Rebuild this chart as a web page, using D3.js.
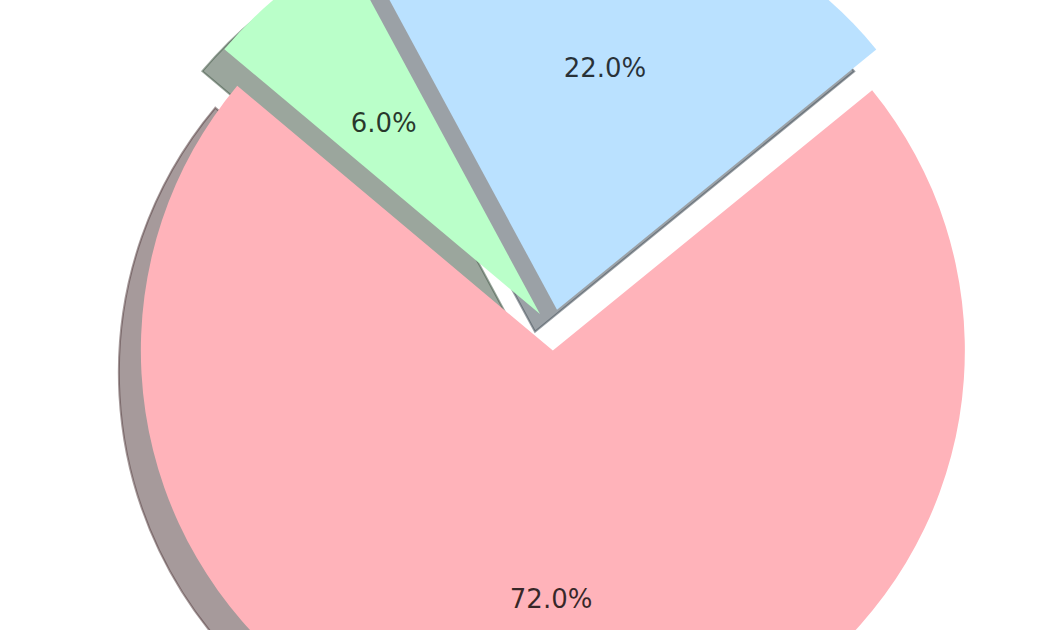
<!DOCTYPE html>
<html>
<head>
<meta charset="utf-8">
<script src="https://cdn.jsdelivr.net/npm/d3@7"></script>
<style>
html,body{margin:0;padding:0;background:#fff;}
svg{display:block;}
</style>
</head>
<body>
<svg id="chart" width="1050" height="630"></svg>
<script>
const labels = ["Blue", "Green", "Pink"];
const values = [22, 6, 72];
const explode = [0.05, 0.05, 0.05];
const colors = ["#bae1ff", "#baffc9", "#ffb3ba"];

const W = 1050, H = 630;
const cx = 553, cy = 330, R = 412;
const shadowDx = -22, shadowDy = 22;
const startDeg = 90 - 39.2; // matplotlib start angle converted to d3 convention

const svg = d3.select("#chart");
const g = svg.append("g").attr("transform", `translate(${cx},${cy})`);

const data = labels.map((l, i) => ({label: l, value: values[i], explode: explode[i], color: colors[i]}));

const pie = d3.pie()
  .sort(null)
  .value(d => d.value)
  .startAngle(startDeg * Math.PI / 180)
  .endAngle((startDeg - 360) * Math.PI / 180);

const arcs = pie(data);
const arc = d3.arc().innerRadius(0).outerRadius(R);
const labelArc = d3.arc().innerRadius(R * 0.6).outerRadius(R * 0.6);

function offset(a) {
  const mid = (a.startAngle + a.endAngle) / 2;
  const d = a.data.explode * R;
  return [Math.sin(mid) * d, -Math.cos(mid) * d];
}

function shadowColor(c) {
  const rgb = d3.rgb(c);
  return d3.rgb(rgb.r * 0.3, rgb.g * 0.3, rgb.b * 0.3).toString();
}

arcs.forEach(a => {
  const [ox, oy] = offset(a);
  const sc = shadowColor(a.data.color);
  g.append("path")
    .attr("d", arc(a))
    .attr("transform", `translate(${ox + shadowDx},${oy + shadowDy})`)
    .attr("fill", sc)
    .attr("fill-opacity", 0.5)
    .attr("stroke", sc)
    .attr("stroke-opacity", 0.5)
    .attr("stroke-width", 2)
    .attr("stroke-linejoin", "miter");
  g.append("path")
    .attr("d", arc(a))
    .attr("transform", `translate(${ox},${oy})`)
    .attr("fill", a.data.color);
});

arcs.forEach(a => {
  const [ox, oy] = offset(a);
  const [lx, ly] = labelArc.centroid(a);
  const pct = (a.data.value / d3.sum(values) * 100).toFixed(1) + "%";
  g.append("text")
    .attr("x", lx + ox)
    .attr("y", ly + oy + 1)
    .attr("text-anchor", "middle")
    .attr("dominant-baseline", "central")
    .attr("font-family", "DejaVu Sans, sans-serif")
    .attr("font-size", 26)
    .attr("fill", "rgba(0,0,0,0.78)")
    .text(pct);
});
</script>
</body>
</html>
